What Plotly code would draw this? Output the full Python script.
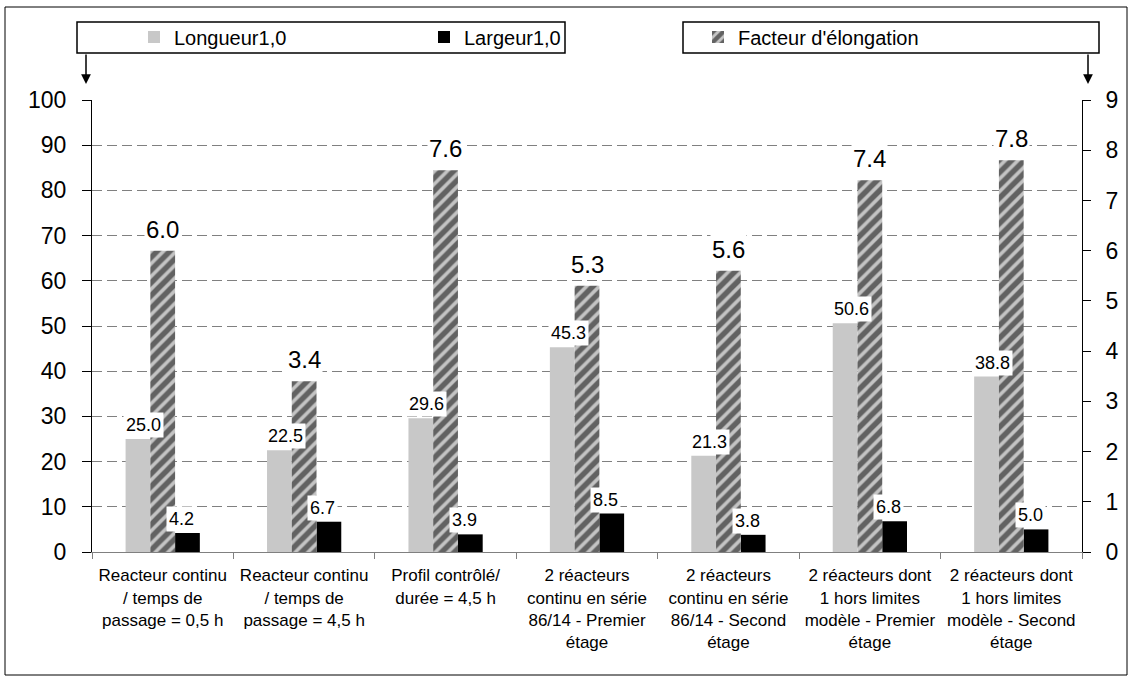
import plotly.graph_objects as go

categories = [
    "Reacteur continu<br>/ temps de<br>passage = 0,5 h",
    "Reacteur continu<br>/ temps de<br>passage = 4,5 h",
    "Profil contrôlé/<br>durée = 4,5 h",
    "2 réacteurs<br>continu en série<br>86/14 - Premier<br>étage",
    "2 réacteurs<br>continu en série<br>86/14 - Second<br>étage",
    "2 réacteurs dont<br>1 hors limites<br>modèle - Premier<br>étage",
    "2 réacteurs dont<br>1 hors limites<br>modèle - Second<br>étage",
]
longueur = [25.0, 22.5, 29.6, 45.3, 21.3, 50.6, 38.8]
largeur = [4.2, 6.7, 3.9, 8.5, 3.8, 6.8, 5.0]
facteur = [6.0, 3.4, 7.6, 5.3, 5.6, 7.4, 7.8]

W, H = 1133, 681
L, R, T, B = 92, 51, 100, 129


# pixel -> paper coordinates (for the boxes and arrows above the plot)
def px(x):
    return (x - L) / (W - L - R)


def py(y):
    return (H - B - y) / (H - T - B)


FONT = "Liberation Sans, Arial, sans-serif"
BW = 0.175

fig = go.Figure()
fig.add_bar(x=categories, y=longueur, name="Longueur1,0", width=BW, offset=-1.5 * BW,
            marker=dict(color="#c8c8c8", line_width=0), legend="legend")
fig.add_bar(x=categories, y=facteur, name="Facteur d'élongation", yaxis="y2",
            width=BW, offset=-0.5 * BW,
            marker=dict(color="#c4c4c4", line_width=0,
                        pattern=dict(shape="/", fgcolor="black", size=9, solidity=0.6)),
            legend="legend3")
fig.add_bar(x=categories, y=largeur, name="Largeur1,0", width=BW, offset=0.5 * BW,
            marker=dict(color="black", line_width=0), legend="legend2")

# value labels
for i in range(len(categories)):
    fig.add_annotation(x=i - BW, y=longueur[i], text=f"{longueur[i]:.1f}", showarrow=False,
                       yanchor="bottom", xshift=6, yshift=1, bgcolor="white", borderpad=2,
                       font=dict(size=18))
    fig.add_annotation(x=i + BW, y=largeur[i], text=f"{largeur[i]:.1f}", showarrow=False,
                       yanchor="bottom", xshift=-6, yshift=1, bgcolor="white", borderpad=2,
                       font=dict(size=18))
    fig.add_annotation(x=i, y=facteur[i], yref="y2", text=f"{facteur[i]:.1f}", showarrow=False,
                       yanchor="bottom", yshift=6, bgcolor="white", borderpad=1,
                       font=dict(size=24))

# legend boxes, frame and arrows
fig.add_shape(type="rect", xref="paper", yref="paper", x0=px(77), x1=px(565),
              y0=py(53), y1=py(22), line=dict(color="black", width=1.5))
fig.add_shape(type="rect", xref="paper", yref="paper", x0=px(683), x1=px(1099),
              y0=py(53), y1=py(22), line=dict(color="black", width=1.5))
fig.add_shape(type="rect", xref="paper", yref="paper", x0=px(5), x1=px(1127),
              y0=py(675), y1=py(7), line=dict(color="black", width=1))
for xa in (86, 1088):
    fig.add_annotation(xref="paper", yref="paper", x=px(xa), y=py(84), ax=0, ay=-31,
                       text="", showarrow=True, arrowhead=2, arrowsize=1.3,
                       arrowwidth=1.5, arrowcolor="black")

leg = dict(orientation="h", xanchor="left", yanchor="middle", y=py(37),
           bgcolor="rgba(0,0,0,0)", borderwidth=0, font=dict(size=20))

fig.update_layout(
    width=W, height=H, margin=dict(l=L, r=R, t=T, b=B),
    plot_bgcolor="white", paper_bgcolor="white",
    font=dict(family=FONT, color="black"),
    barmode="overlay", showlegend=True,
    xaxis=dict(type="category", showline=True, linecolor="#808080", ticks="outside",
               tickson="boundaries", ticklen=6, tickcolor="#808080",
               tickfont=dict(size=17), ticklabelstandoff=8, showgrid=False),
    yaxis=dict(range=[0, 100], dtick=10, showline=True, linecolor="black",
               ticks="outside", ticklen=9, tickcolor="black", tickfont=dict(size=23),
               ticklabelstandoff=11,
               showgrid=True, gridcolor="#808080", griddash="10px,5px", zeroline=False),
    yaxis2=dict(range=[0, 9], dtick=1, overlaying="y", side="right", showline=True,
                linecolor="black", ticks="outside", ticklen=8, tickcolor="black",
                tickfont=dict(size=23), ticklabelstandoff=10,
                showgrid=False, zeroline=False),
    legend=dict(leg, x=px(134)),
    legend2=dict(leg, x=px(424)),
    legend3=dict(leg, x=px(698)),
)

fig.write_html("out.html", config={"displayModeBar": False},
               post_script="document.body.style.margin='0';")
